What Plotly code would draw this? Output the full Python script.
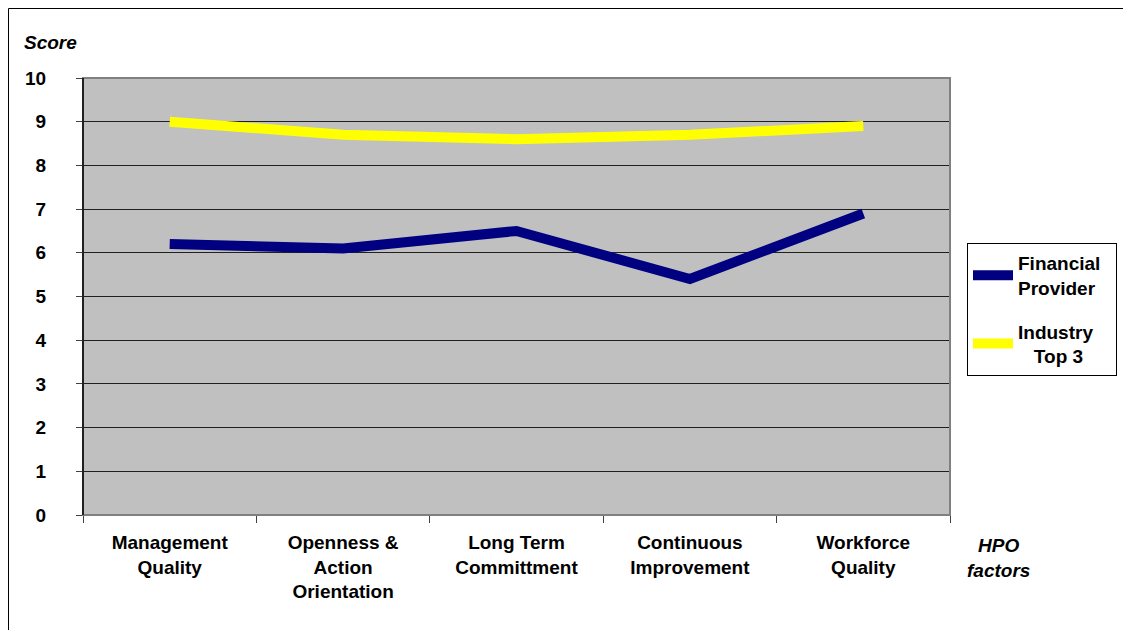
import plotly.graph_objects as go

categories = ["Management<br>Quality", "Openness &<br>Action<br>Orientation",
              "Long Term<br>Committment", "Continuous<br>Improvement", "Workforce<br>Quality"]
financial_provider = [6.2, 6.1, 6.5, 5.4, 6.9]
industry_top3 = [9.0, 8.7, 8.6, 8.7, 8.9]
y_ticks = list(range(0, 11))

FONT = "Liberation Sans, Arial, sans-serif"

# plot area in figure pixels
L, T, PW, PH = 75, 70, 867, 437
W, H = 1131, 630


def px(x):
    return (x - L) / PW


def py(y):
    return (T + PH - y) / PH


fig = go.Figure()
fig.add_trace(go.Scatter(x=categories, y=financial_provider, mode="lines",
                         name="Financial&nbsp;&nbsp;<br>Provider", legendgroup="a",
                         line=dict(color="#000080", width=10)))
fig.add_trace(go.Scatter(x=categories, y=industry_top3, mode="lines",
                         name="Industry<br>&nbsp;&nbsp;&nbsp;Top 3", legendgroup="b",
                         line=dict(color="#FFFF00", width=10)))

fig.update_layout(
    width=W, height=H,
    margin=dict(l=L, r=W - L - PW, t=T, b=H - T - PH, autoexpand=False),
    paper_bgcolor="white", plot_bgcolor="#C0C0C0",
    font=dict(family=FONT, size=19, color="black"),
    showlegend=True,
    legend=dict(x=px(959), y=py(235), xanchor="left", yanchor="top",
                bgcolor="white", bordercolor="black", borderwidth=1,
                font=dict(family=FONT, size=19, color="black", weight="bold"),
                traceorder="grouped", tracegroupgap=16, itemwidth=40),
    xaxis=dict(range=[-0.5, 4.5], showgrid=False, zeroline=False,
               showline=True, linecolor="#404040", linewidth=1,
               ticks="outside", ticklen=7, tickcolor="#404040", tickson="boundaries",
               tickfont=dict(family=FONT, size=19, weight="bold"),
               ticklabelstandoff=10, fixedrange=True, automargin=False),
    yaxis=dict(range=[0, 10], tickvals=y_ticks, showgrid=True,
               gridcolor="#202020", gridwidth=1, zeroline=False,
               showline=True, linecolor="black", linewidth=1,
               ticks="outside", ticklen=6, tickcolor="#404040",
               tickfont=dict(family=FONT, size=19, weight="bold"),
               ticklabelstandoff=26, fixedrange=True, automargin=False),
    shapes=[
        dict(type="rect", xref="paper", yref="paper", x0=0, x1=1, y0=0, y1=1,
             line=dict(color="#808080", width=2), layer="above"),
        dict(type="rect", xref="paper", yref="paper",
             x0=px(0.5), x1=px(W + 20),
             y0=py(H + 20), y1=py(0.5),
             line=dict(color="black", width=1), layer="below"),
    ],
    annotations=[
        dict(text="Score", xref="paper", yref="paper",
             x=px(14), y=py(34), xanchor="left", yanchor="middle",
             showarrow=False, font=dict(family=FONT, size=19, weight="bold", style="italic")),
        dict(text="HPO<br>factors", xref="paper", yref="paper",
             x=px(990), y=py(525), xanchor="center", yanchor="top",
             showarrow=False, font=dict(family=FONT, size=19, weight="bold", style="italic")),
    ],
)
# redraw left axis line on top of the gray border
fig.add_shape(type="line", xref="paper", yref="paper", x0=0, x1=0, y0=0, y1=1,
              line=dict(color="black", width=1.5), layer="above")

fig.write_html("out.html")
